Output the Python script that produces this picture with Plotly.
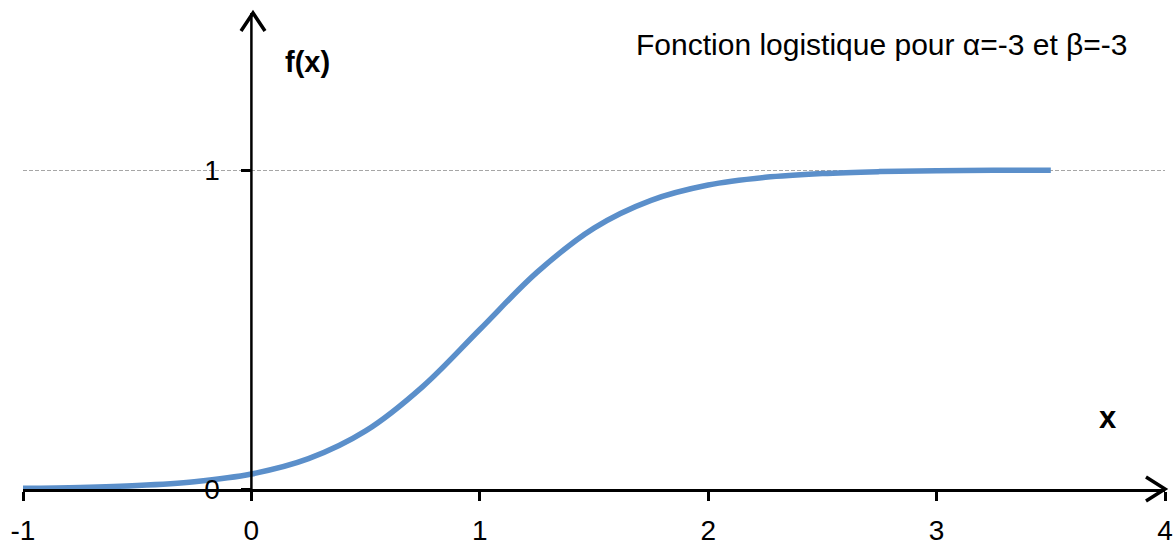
import plotly.graph_objects as go

# Logistic curve, alpha = -3, beta = -3
x_vals = [-1, -0.75, -0.5, -0.25, 0, 0.25, 0.5, 0.75, 1, 1.25, 1.5, 1.75,
          2, 2.25, 2.5, 2.75, 3, 3.25, 3.5]
f_vals = [0.002, 0.005, 0.011, 0.023, 0.047, 0.095, 0.182, 0.321, 0.5, 0.679,
          0.818, 0.905, 0.953, 0.977, 0.989, 0.995, 0.998, 0.999, 0.999]

x_ticks = [-1, 0, 1, 2, 3, 4]
y_ticks = [0, 1]

FONT = "Liberation Sans, Arial, Helvetica, sans-serif"
W, H = 1175, 546
ML, MR, MT, MB = 23, 10, 10, 57
PW, PH = W - ML - MR, H - MT - MB
Y_TOP = PH / 319.0  # 319 px per unit on the y axis


def px(xp):
    """page x pixel -> paper fraction of the plot area"""
    return (xp - ML) / PW


def py(yp):
    """page y pixel -> paper fraction of the plot area"""
    return (H - MB - yp) / PH


fig = go.Figure()
fig.add_trace(go.Scatter(
    x=x_vals, y=f_vals, mode="lines",
    line=dict(color="#5B8FCA", width=5.5, shape="spline", smoothing=1.0),
    hoverinfo="skip", showlegend=False,
))

# vertical axis line through x = 0, plus open chevron arrowheads on both axes
fig.add_shape(type="line", xref="x", yref="paper", x0=0, x1=0, y0=0, y1=py(13),
              line=dict(color="black", width=2.5))
fig.add_shape(type="path", xref="paper", yref="paper",
              path=f"M {px(1146)},{py(477)} L {px(1165)},{py(489)} L {px(1146)},{py(501)}",
              line=dict(color="black", width=3.5))
fig.add_shape(type="path", xref="paper", yref="paper",
              path=f"M {px(241)},{py(31)} L {px(253)},{py(13)} L {px(265)},{py(31)}",
              line=dict(color="black", width=3.5))

fig.add_annotation(x=px(1130), y=py(45), xref="paper", yref="paper",
                   text="Fonction logistique pour α=-3 et β=-3",
                   showarrow=False, xanchor="right", yanchor="middle",
                   font=dict(family=FONT, size=30, color="black"))
fig.add_annotation(text="<b>f(x)</b>", xref="paper", yref="paper",
                   x=px(307), y=py(62), showarrow=False, xanchor="center", yanchor="middle",
                   font=dict(family=FONT, size=29, color="black"))
fig.add_annotation(text="<b>x</b>", xref="paper", yref="paper",
                   x=px(1108), y=py(417), showarrow=False, xanchor="center", yanchor="middle",
                   font=dict(family=FONT, size=31, color="black"))

fig.update_layout(
    width=W, height=H,
    margin=dict(l=ML, r=MR, t=MT, b=MB, autoexpand=False),
    paper_bgcolor="white", plot_bgcolor="white",
    font=dict(family=FONT, size=28, color="black"),
    xaxis=dict(range=[-1, 4], tickvals=x_ticks, ticktext=[str(v) for v in x_ticks],
               automargin=False,
               showgrid=False, zeroline=False, showline=True, linecolor="black", linewidth=2.5,
               ticks="outside", ticklen=9, tickwidth=2.5, tickcolor="black",
               ticklabelstandoff=6,
               tickfont=dict(family=FONT, size=28, color="black")),
    yaxis=dict(range=[0, Y_TOP], tickvals=y_ticks, ticktext=[str(v) for v in y_ticks],
               anchor="free", position=0.2, automargin=False,
               showgrid=True, gridcolor="#A6A6A6", griddash="4px,2px", gridwidth=1,
               zeroline=False, showline=False,
               ticks="outside", ticklen=10, tickwidth=2.5, tickcolor="black",
               ticklabelstandoff=16,
               tickfont=dict(family=FONT, size=28, color="black")),
)

fig.write_html("out.html")
